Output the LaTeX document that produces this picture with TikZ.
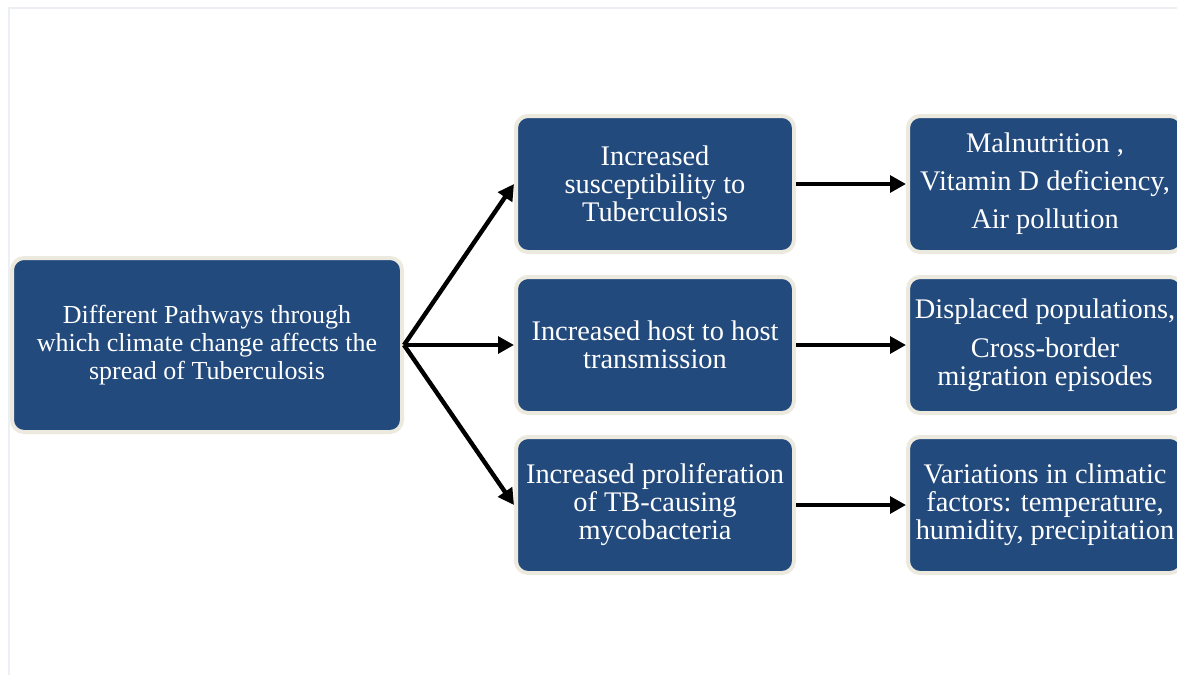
\documentclass[tikz,border=0pt]{standalone}
\usepackage{fontspec}
\setmainfont{Liberation Serif}
\usetikzlibrary{arrows.meta}
\definecolor{boxblue}{RGB}{35,74,125}
\definecolor{boxrim}{RGB}{236,234,222}
\definecolor{framegray}{RGB}{236,239,244}
\tikzset{
  px/.style={x=0.75pt,y=-0.75pt},
  tbox/.style={rectangle, rounded corners=9pt, fill=boxblue, draw=boxrim,
    line width=3pt, text=white, align=center, inner sep=0pt,
    font=\fontsize{21.3}{21}\selectfont},
  mainbox/.style={tbox, minimum width=292.5pt, minimum height=130.5pt,
    font=\fontsize{19.5}{21}\selectfont},
  midbox/.style={tbox, minimum width=208.5pt, minimum height=102pt},
  rightbox/.style={tbox, minimum width=205.5pt, minimum height=102pt},
  conn/.style={line width=3.3pt, -{Triangle[length=12pt,width=12.5pt]}}
}
\begin{document}
\begin{tikzpicture}[px]
\useasboundingbox (0,0) rectangle (1177,675);
\clip (0,0) rectangle (1177,675);
\fill[white] (0,0) rectangle (1177,675);
\draw[framegray, line width=1pt] (9,675) -- (9,8) -- (1177,8);
\node[mainbox] (main) at (207,345) {Different Pathways through\\which climate change affects the\\spread of Tuberculosis};
\node[midbox] (m1) at (655,184) {Increased\\susceptibility to\\Tuberculosis};
\node[midbox] (m2) at (655,345) {Increased host to host\\transmission};
\node[midbox] (m3) at (655,505) {Increased proliferation\\of TB-causing\\mycobacteria};
\node[rightbox] (r1) at (1045,184) {Malnutrition ,\\[7.5pt]Vitamin D deficiency,\\[7.5pt]Air pollution};
\node[rightbox] (r2) at (1045,345) {Displaced populations,\\[8.25pt]Cross-border\\migration episodes};
\node[rightbox] (r3) at (1045,505) {Variations in climatic\\factors: temperature,\\humidity, precipitation};
\draw[conn] (main.east) -- (m1.west);
\draw[conn] (main.east) -- (m2.west);
\draw[conn] (main.east) -- (m3.west);
\draw[conn] (m1.east) -- (r1.west);
\draw[conn] (m2.east) -- (r2.west);
\draw[conn] (m3.east) -- (r3.west);
\end{tikzpicture}
\end{document}
